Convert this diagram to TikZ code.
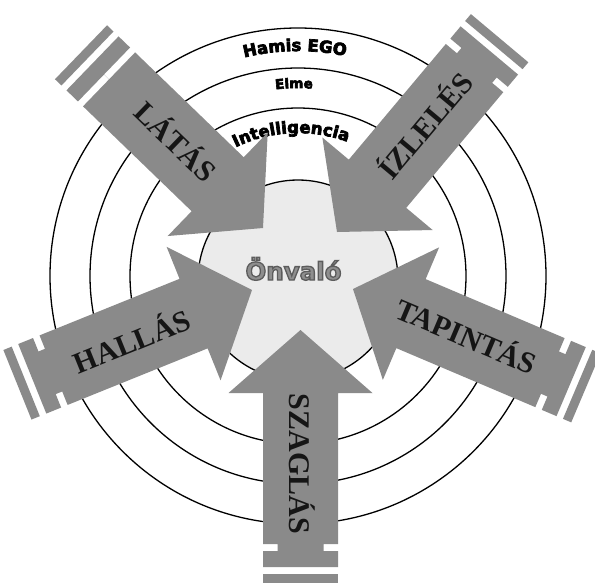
\documentclass[tikz,border=0pt]{standalone}
\usepackage{fontspec}
\setmainfont{Liberation Serif}
\newfontfamily\ringfont{DejaVu Sans}
\usetikzlibrary{decorations.text}
\definecolor{arrowgray}{HTML}{8A8A8A}
\definecolor{diskgray}{HTML}{EBEBEB}
\definecolor{selfgray}{HTML}{8E8E8E}
\definecolor{labelblack}{HTML}{151515}
\newcommand\HeavyOn[1]{\special{pdf:literal direct 2 Tr #1 w}}
\newcommand\HeavyOff{\special{pdf:literal direct 0 Tr}}
% tip x, tip y (screen px), direction angle (tail -> tip), neck half width
\newcommand\SenseArrow[4]{%
  \begin{scope}[shift={(#1,-#2)},rotate=#3]
    \fill[arrowgray] (0,0) -- (-63,72) -- (-63,37.5) -- (-214,37.5) -- (-214,#4) -- (-221,#4)
      -- (-221,37.5) -- (-237,37.5) -- (-237,-37.5) -- (-221,-37.5) -- (-221,-#4) -- (-214,-#4)
      -- (-214,-37.5) -- (-63,-37.5) -- (-63,-72) -- cycle;
    \fill[arrowgray] (-244,-37.5) rectangle (-253,37.5);
  \end{scope}}
\tikzset{
  ring/.style={line width=1.3pt, draw=black},
  senselabel/.style={font=\bfseries\fontsize{30}{30}\selectfont, text=labelblack,
    inner sep=0pt, text height=20pt, text depth=0pt},
  selftext/.style={font=\ringfont\bfseries\fontsize{24.5}{24.5}\selectfont, inner sep=0pt, anchor=base},
}
\begin{document}
\begin{tikzpicture}[x=1pt,y=1pt]
  \fill[white] (0,0) rectangle (595,-582);
  \useasboundingbox (0,0) rectangle (595,-582);
  \clip (0,0) rectangle (595,-582);
  \coordinate (C) at (298,-276);
  \coordinate (D) at (298,-280);
  % rings
  \draw[ring] (C) circle[radius=248];
  \draw[ring] (C) circle[radius=208];
  \draw[ring] (C) circle[radius=168];
  \draw[ring, fill=diskgray] (D) circle[radius=100];
  % ring labels
  \path[decorate, decoration={text along path, text align=center,
     text={|\HeavyOn{0.7}\ringfont\bfseries\fontsize{16.5}{16.5}\selectfont|Hamis EGO}}]
     ([shift={(120.8:225)}]C) arc[start angle=120.8, end angle=60.8, radius=225];
  \path[decorate, decoration={text along path, text align=center,
     text={|\HeavyOn{0.6}\ringfont\bfseries\fontsize{13.5}{13.5}\selectfont|Elme}}]
     ([shift={(116.2:188)}]C) arc[start angle=116.2, end angle=66.2, radius=188];
  \path[decorate, decoration={text along path, text align=center,
     text={|\HeavyOn{0.7}\ringfont\bfseries\fontsize{16.5}{16.5}\selectfont|Intelligencia}}]
     ([shift={(142.8:143)}]C) arc[start angle=142.8, end angle=42.8, radius=143];
  % arrows
  \SenseArrow{300.5}{330}{90}{23}
  \SenseArrow{353}{289}{157}{23}
  \SenseArrow{337}{232}{-130}{23}
  \SenseArrow{263}{228}{-44}{0}
  \SenseArrow{252}{290}{22}{23}
  % arrow labels
  \node[senselabel, rotate=-90] (szaglas) at (299,-464) {\HeavyOff SZAGLÁS};
  \node[senselabel, rotate=-23] (tapintas) at (466,-337) {\HeavyOff TAPINTÁS};
  \node[senselabel, rotate=50] (izleles) at (426,-126) {\HeavyOff ÍZLELÉS};
  \node[senselabel, rotate=-44] (latas) at (175,-142) {\HeavyOff LÁTÁS};
  \node[senselabel, rotate=22] (hallas) at (132,-342) {\HeavyOff HALLÁS};
  % self: grey letters with a darker outline
  \node[selftext, text=selfgray] (onvalo) at (293.5,-280)
    {\special{pdf:literal direct 2 Tr 1.3 w 0.36 G}Önvaló\HeavyOff};
\end{tikzpicture}
\end{document}
